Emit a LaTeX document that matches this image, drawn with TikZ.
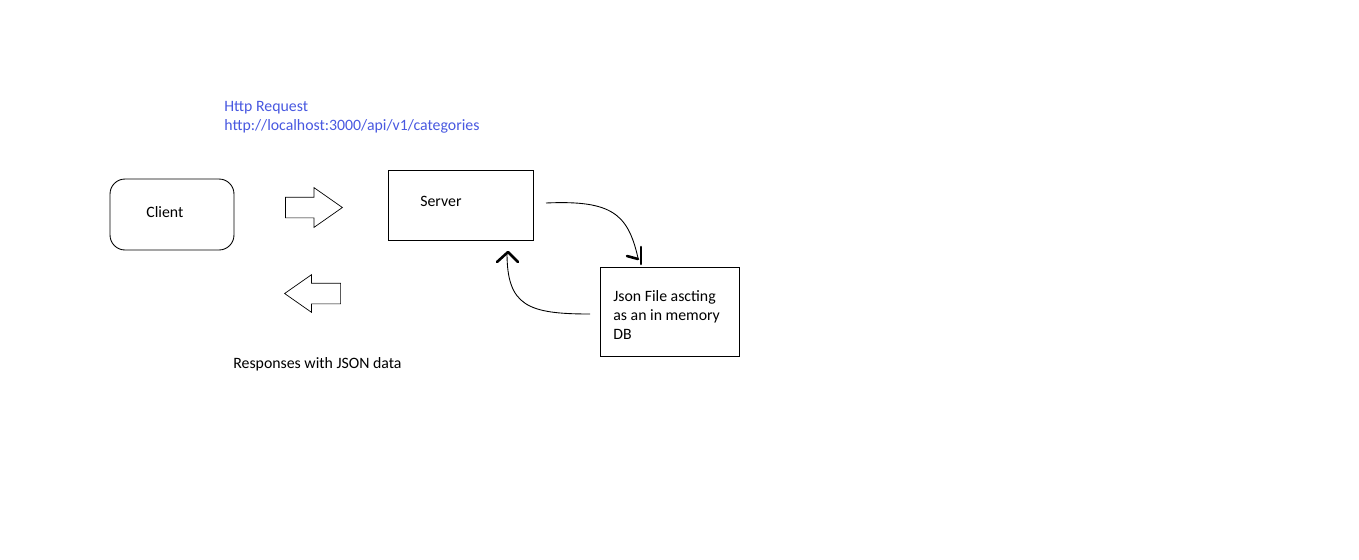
\documentclass[tikz,border=0pt]{standalone}
\usepackage{fontspec}
\setmainfont{Carlito}
\usepackage{tikz}
\usetikzlibrary{shapes.arrows, arrows.meta, positioning, calc}
\definecolor{requestblue}{RGB}{72,88,224}
\definecolor{inkblack}{RGB}{0,0,0}

\tikzset{
    box/.style={draw=inkblack, line width=0.5pt, minimum height=1.4cm, align=left},
    blockarrow/.style={single arrow, draw=inkblack, line width=0.4pt, minimum height=1.14cm,
        inner xsep=0pt, inner ysep=0.2cm, single arrow head extend=0.19cm, single arrow tip angle=70},
    flow/.style={line width=0.5pt, inkblack},
    handtip/.style={line width=0.052cm, inkblack, line cap=round, line join=round},
    txt/.style={font=\fontsize{9}{10.8}\selectfont, anchor=west, align=left, inner sep=0pt}
}

\begin{document}
\begin{tikzpicture}[x=0.02cm, y=-0.02cm]
    \useasboundingbox (0,0) rectangle (1359,559);

    % Boxes
    \node[box, rounded corners=0.3cm, minimum width=2.48cm, minimum height=1.42cm] (client) at (172,214.5) {};
    \node[txt] (clienttxt) at (146,212) {Client};
    \node[box, minimum width=2.9cm] (server) at (460.5,205) {};
    \node[txt] (servertxt) at (420,201) {Server};
    \node[box, minimum width=2.78cm, minimum height=1.78cm] (json) at (669.5,311.5) {};
    \node[txt] (jsontxt) at (613,315) {Json File ascting\\as an in memory\\DB};

    % Request / response arrows
    \node[blockarrow, anchor=tip] (toserver) at (343,207.5) {};
    \node[blockarrow, anchor=tip, shape border rotate=180, minimum height=1.12cm,
        single arrow head extend=0.17cm] (toclient) at (284,293.5) {};

    % Labels
    \node[txt, text=requestblue] (request) at (224,117) {Http Request\\http://localhost:3000/api/v1/categories};
    \node[txt] (response) at (233,364) {Responses with JSON data};

    % Server reads the json file
    \coordinate (readstart) at (546,203);
    \coordinate (readend) at (638,258);
    \draw[flow] (readstart) .. controls (612,200) and (628,214) .. (readend);
    \draw[handtip] ($(readend)+(-11,-2)$) -- ($(readend)+(0,1)$);
    \draw[handtip] ($(readend)+(3,-11)$) -- ($(readend)+(3,6)$);

    % Data goes back to the server
    \coordinate (backstart) at (590,314);
    \coordinate (backend) at (507,253);
    \draw[flow] (backstart) .. controls (528,314) and (507,306) .. (backend);
    \draw[handtip] ($(backend)+(-10,9)$) -- ($(backend)+(1,-1)$) -- ($(backend)+(11,9)$);
\end{tikzpicture}
\end{document}
